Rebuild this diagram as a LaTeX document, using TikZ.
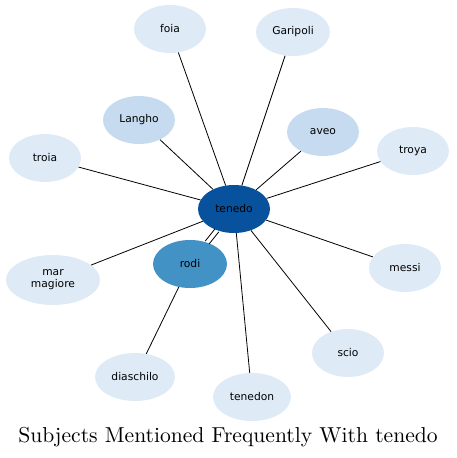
\documentclass[tikz,border=0pt]{standalone}
\usepackage{fontspec}
\newfontfamily\labfont{DejaVu Sans}
\newfontfamily\titlefont[Extension=.otf]{lmroman10-regular}
\usetikzlibrary{shapes.geometric}
\definecolor{cdark}{HTML}{08519C}
\definecolor{cmid}{HTML}{4292C6}
\definecolor{clight}{HTML}{C6DBEF}
\definecolor{cpale}{HTML}{DEEBF7}
\tikzset{
  topic/.style={ellipse, draw=none, fill=cpale, minimum width=72pt, minimum height=48pt, inner sep=0pt, font=\labfont\fontsize{10.7}{12}\selectfont, align=center, text=black},
  edge/.style={black, line width=0.8pt}
}
\begin{document}
\begin{tikzpicture}[x=1pt,y=-1pt]
\useasboundingbox (0,0) rectangle (456,458);
\node[topic, fill=cdark] (tenedo) at (234,209) {tenedo};
\node[topic, fill=cmid, minimum width=74pt] (rodi) at (190,264) {rodi};
\node[topic] (foia) at (170,29) {foia};
\node[topic, minimum width=74pt] (garipoli) at (293,32) {Garipoli};
\node[topic, fill=clight] (langho) at (139,120) {Langho};
\node[topic, fill=clight] (aveo) at (323,132) {aveo};
\node[topic] (troia) at (45,158) {troia};
\node[topic] (troya) at (413,151) {troya};
\node[topic, minimum width=94pt, minimum height=50pt] (marmagiore) at (53,280) {mar\\magiore};
\node[topic] (messi) at (405,268) {messi};
\node[topic, minimum width=80pt] (diaschilo) at (135,377) {diaschilo};
\node[topic, minimum width=78pt] (tenedon) at (252,397) {tenedon};
\node[topic] (scio) at (348,353) {scio};
\foreach \n in {foia,garipoli,langho,aveo,troia,troya,marmagiore,messi,tenedon,scio}
  \draw[edge] (tenedo) -- (\n);
\draw[edge] (rodi) -- (diaschilo);
\draw[edge, transform canvas={shift={(1.9pt,-1.5pt)}}] (tenedo) -- (rodi);
\draw[edge, transform canvas={shift={(-1.9pt,1.5pt)}}] (tenedo) -- (rodi);
\node[font=\titlefont\fontsize{21.6}{25}\selectfont] (title) at (228,437) {Subjects Mentioned Frequently With tenedo};
\end{tikzpicture}
\end{document}
